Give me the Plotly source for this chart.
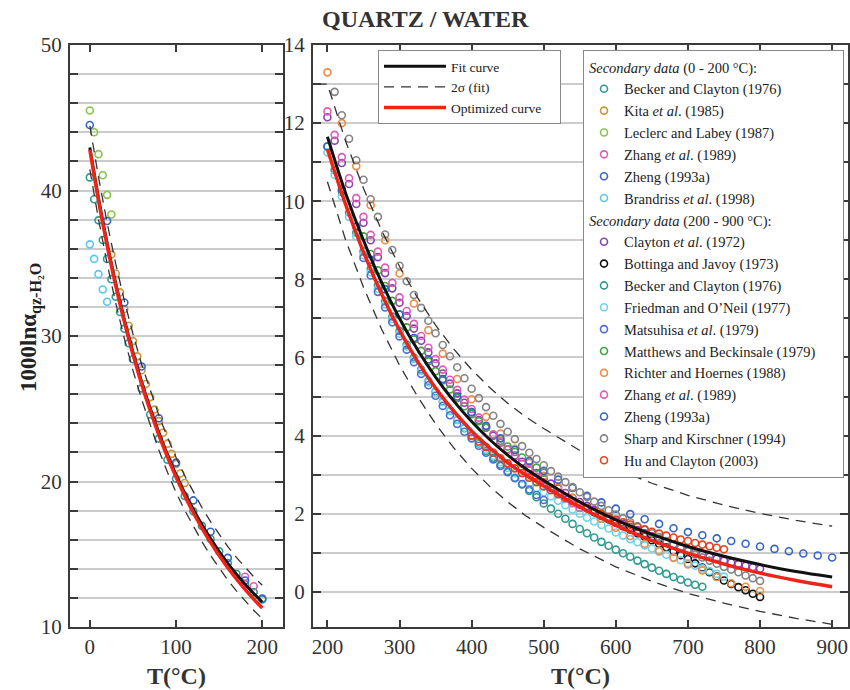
import plotly.graph_objects as go

FONT = "Liberation Serif, Times New Roman, serif"

# ---------------- curves: low-temperature panel (T in °C) ----------------
T_LOW = list(range(0, 201, 10))
FIT_LOW = [42.95, 39.49, 36.39, 33.62, 31.13, 28.89, 26.86, 25.03, 23.36, 21.84, 20.45,
           19.21, 18.07, 17.03, 16.07, 15.19, 14.37, 13.63, 12.93, 12.30, 11.72]
OPT_LOW = [42.80, 39.34, 36.24, 33.47, 30.98, 28.74, 26.71, 24.88, 23.21, 21.69, 20.30,
           19.03, 17.87, 16.80, 15.82, 14.91, 14.07, 13.30, 12.58, 11.92, 11.30]
UP_LOW = [44.45, 40.94, 37.79, 34.97, 32.43, 30.14, 28.06, 26.23, 24.56, 23.04, 21.65,
          20.40, 19.26, 18.21, 17.24, 16.36, 15.53, 14.79, 14.09, 13.45, 12.87]
LO_LOW = [41.45, 38.04, 34.99, 32.27, 29.83, 27.64, 25.66, 23.83, 22.16, 20.64, 19.25,
          18.03, 16.90, 15.87, 14.91, 14.04, 13.22, 12.48, 11.78, 11.15, 10.57]

# ---------------- curves: high-temperature panel ----------------
T_HIGH = [200, 225, 250, 275, 300, 325, 350, 375, 400, 425, 450, 475, 500,
          550, 600, 650, 700, 750, 800, 850, 900]
FIT_HIGH = [11.65, 10.22, 9.00, 7.93, 7.00, 6.20, 5.50, 4.89, 4.36, 3.90, 3.50, 3.15, 2.85,
            2.30, 1.84, 1.47, 1.16, 0.91, 0.70, 0.52, 0.38]
OPT_HIGH = [11.33, 9.93, 8.70, 7.63, 6.70, 5.90, 5.22, 4.63, 4.12, 3.69, 3.31, 2.99, 2.71,
            2.17, 1.70, 1.31, 0.99, 0.71, 0.48, 0.29, 0.13]
T_UP_HIGH = [185] + T_HIGH
UP_HIGH = [13.00, 13.00, 11.55, 10.33, 9.26, 8.33, 7.53, 6.83, 6.22, 5.69, 5.23, 4.83, 4.48, 4.18,
           3.62, 3.15, 2.78, 2.47, 2.22, 2.01, 1.83, 1.68]
LO_HIGH = [10.50, 9.02, 7.80, 6.73, 5.80, 5.00, 4.30, 3.69, 3.16, 2.70, 2.30, 1.95, 1.65,
           1.10, 0.64, 0.27, -0.04, -0.29, -0.50, -0.68, -0.83]

# ---------------- secondary data, 0 - 200 °C ----------------
BECKER_LO_T = [0, 5, 10, 15, 20, 25, 30, 35, 40, 45, 50, 60, 70, 80, 90, 100, 110, 120,
               130, 140, 150, 160, 170, 180, 190, 200]
BECKER_LO_V = [40.9, 39.4, 37.95, 36.6, 35.3, 33.9, 32.7, 31.65, 30.5, 29.5, 28.4, 26.4, 24.6,
               22.95, 21.5, 20.2, 19.0, 17.95, 16.95, 16.05, 15.2, 14.4, 13.65, 12.95, 12.4, 11.9]
KITA_T = list(range(25, 111, 5))
KITA_V = [35.6, 34.3, 33.0, 31.85, 30.7, 29.65, 28.6, 27.65, 26.7, 25.8, 24.95, 24.15,
          23.35, 22.6, 21.9, 21.2, 20.55, 19.9]
LECLERC_T = [0, 5, 10, 15, 20, 25]
LECLERC_V = [45.5, 44.0, 42.5, 41.05, 39.7, 38.35]
ZHANG_LO_T = [180, 190]
ZHANG_LO_V = [13.45, 12.8]
ZHENG_LO_T = [0, 20, 40, 60, 80, 100, 120, 140, 160, 180, 200]
ZHENG_LO_V = [44.5, 37.9, 32.3, 27.9, 24.35, 21.3, 18.7, 16.55, 14.75, 13.2, 11.95]
BRANDRISS_T = [0, 5, 10, 15, 20]
BRANDRISS_V = [36.3, 35.3, 34.25, 33.2, 32.35]

# ---------------- secondary data, 200 - 900 °C ----------------
CLAYTON_T = list(range(200, 801, 10))
CLAYTON_V = [12.15, 11.55, 10.98, 10.44, 9.93, 9.45, 9.0, 8.57, 8.16, 7.77, 7.4, 7.06, 6.74,
             6.43, 6.13, 5.85, 5.59, 5.33, 5.08, 4.84, 4.6, 4.4, 4.2, 4.0, 3.82, 3.65, 3.49,
             3.33, 3.18, 3.04, 2.9, 2.77, 2.65, 2.53, 2.41, 2.3, 2.2, 2.1, 2.0, 1.91, 1.82,
             1.74, 1.66, 1.58, 1.5, 1.42, 1.35, 1.28, 1.21, 1.14, 1.08, 1.02, 0.96, 0.9,
             0.85, 0.8, 0.75, 0.71, 0.67, 0.63, 0.59]
BOTTINGA_T = list(range(560, 801, 10))
BOTTINGA_V = [2.14, 2.04, 1.95, 1.86, 1.77, 1.68, 1.59, 1.5, 1.41, 1.32, 1.23, 1.14, 1.04,
              0.94, 0.84, 0.73, 0.62, 0.5, 0.39, 0.29, 0.2, 0.12, 0.04, -0.05, -0.13]
BECKER_HI_T = list(range(200, 721, 10))
BECKER_HI_V = [11.4, 10.8, 10.24, 9.71, 9.2, 8.72, 8.27, 7.85, 7.44, 7.05, 6.68, 6.33, 6.0,
               5.69, 5.4, 5.13, 4.87, 4.63, 4.4, 4.19, 3.99, 3.8, 3.61, 3.43, 3.26, 3.09,
               2.92, 2.75, 2.58, 2.42, 2.26, 2.13, 2.0, 1.87, 1.74, 1.61, 1.5, 1.39, 1.28,
               1.18, 1.08, 0.99, 0.9, 0.8, 0.71, 0.62, 0.54, 0.46, 0.38, 0.31, 0.24, 0.18, 0.13]
FRIEDMAN_T = list(range(200, 751, 10))
FRIEDMAN_V = [11.25, 10.67, 10.12, 9.6, 9.1, 8.62, 8.18, 7.76, 7.36, 6.98, 6.61, 6.28, 5.96,
              5.66, 5.37, 5.11, 4.86, 4.63, 4.41, 4.2, 4.0, 3.82, 3.64, 3.48, 3.32, 3.17,
              3.04, 2.9, 2.78, 2.66, 2.55, 2.44, 2.33, 2.22, 2.11, 2.0, 1.9, 1.8, 1.71, 1.62,
              1.52, 1.44, 1.35, 1.27, 1.19, 1.11, 1.03, 0.95, 0.88, 0.81, 0.73, 0.67, 0.6,
              0.53, 0.46, 0.39]
MATSUHISA_T = list(range(250, 501, 10))
MATSUHISA_V = [8.55, 8.1, 7.68, 7.28, 6.9, 6.54, 6.2, 5.88, 5.58, 5.29, 5.02, 4.76, 4.52,
               4.3, 4.1, 3.93, 3.74, 3.56, 3.39, 3.22, 3.06, 2.91, 2.76, 2.62, 2.48, 2.35]
MATTHEWS_T = list(range(250, 501, 10))
MATTHEWS_V = [9.1, 8.65, 8.23, 7.83, 7.45, 7.1, 6.77, 6.46, 6.17, 5.9, 5.65, 5.41, 5.18,
              4.96, 4.75, 4.55, 4.37, 4.2, 4.03, 3.87, 3.72, 3.58, 3.44, 3.31, 3.18, 3.05]
RICHTER_T = list(range(200, 801, 20))
RICHTER_V = [13.3, 12.0, 10.9, 9.9, 9.0, 8.15, 7.38, 6.7, 6.1, 5.45, 4.93, 4.48, 4.05, 3.66,
             3.3, 2.97, 2.68, 2.4, 2.13, 1.87, 1.64, 1.43, 1.23, 1.05, 0.87, 0.7, 0.55, 0.38,
             0.22, 0.13, 0.02]
ZHANG_HI_T = list(range(200, 551, 10))
ZHANG_HI_V = [12.3, 11.7, 11.13, 10.59, 10.08, 9.6, 9.14, 8.71, 8.3, 7.91, 7.54, 7.19, 6.86,
              6.55, 6.25, 5.96, 5.69, 5.43, 5.17, 4.92, 4.68, 4.46, 4.24, 4.03, 3.83, 3.64,
              3.46, 3.28, 3.11, 2.95, 2.8, 2.66, 2.52, 2.39, 2.27, 2.15]
ZHENG_HI_T = list(range(200, 901, 20))
ZHENG_HI_V = [11.4, 10.3, 9.35, 8.5, 7.75, 7.1, 6.5, 5.95, 5.45, 5.0, 4.6, 4.25, 3.93, 3.63,
              3.35, 3.1, 2.87, 2.66, 2.46, 2.29, 2.13, 1.99, 1.86, 1.74, 1.63, 1.53, 1.45,
              1.37, 1.3, 1.23, 1.16, 1.1, 1.04, 0.98, 0.93, 0.88]
SHARP_T = list(range(210, 801, 10))
SHARP_V = [12.8, 12.2, 11.6, 11.05, 10.55, 10.05, 9.6, 9.15, 8.75, 8.35, 7.95, 7.6, 7.27,
           6.94, 6.62, 6.32, 6.03, 5.75, 5.47, 5.2, 4.96, 4.73, 4.51, 4.3, 4.1, 3.91, 3.73,
           3.56, 3.4, 3.24, 3.09, 2.95, 2.81, 2.68, 2.55, 2.43, 2.31, 2.2, 2.09, 1.98, 1.88,
           1.78, 1.68, 1.59, 1.5, 1.4, 1.3, 1.21, 1.12, 1.04, 0.96, 0.88, 0.8, 0.72, 0.64,
           0.57, 0.5, 0.42, 0.35, 0.28]
HU_T = list(range(400, 751, 10))
HU_V = [4.0, 3.85, 3.7, 3.56, 3.42, 3.29, 3.16, 3.04, 2.92, 2.81, 2.7, 2.6, 2.5, 2.41, 2.32,
        2.23, 2.15, 2.07, 1.99, 1.92, 1.85, 1.78, 1.72, 1.66, 1.6, 1.54, 1.49, 1.44, 1.39,
        1.34, 1.3, 1.25, 1.21, 1.17, 1.13, 1.09]

NB = "\u00a0"
LOW_SERIES = [
    ("Becker and Clayton (1976)", BECKER_LO_T, BECKER_LO_V, "#2f9c8f"),
    ("Kita <i>et al</i>. (1985)", KITA_T, KITA_V, "#c9963a"),
    ("Leclerc and Labey (1987)", LECLERC_T, LECLERC_V, "#86c44a"),
    ("Zhang <i>et al</i>. (1989)", ZHANG_LO_T, ZHANG_LO_V, "#e05cb4"),
    ("Zheng (1993a)", ZHENG_LO_T, ZHENG_LO_V, "#3564c8"),
    ("Brandriss <i>et al</i>. (1998)", BRANDRISS_T, BRANDRISS_V, "#5cc6ee"),
]
HIGH_SERIES = [
    ("Clayton <i>et al</i>. (1972)", CLAYTON_T, CLAYTON_V, "#8a42b0"),
    ("Bottinga and Javoy (1973)", BOTTINGA_T, BOTTINGA_V, "#111111"),
    ("Becker and Clayton (1976)", BECKER_HI_T, BECKER_HI_V, "#2f9c8f"),
    ("Friedman and O\u2019Neil (1977)", FRIEDMAN_T, FRIEDMAN_V, "#6fd2ea"),
    ("Matsuhisa <i>et al</i>. (1979)", MATSUHISA_T, MATSUHISA_V, "#4a6fd0"),
    ("Matthews and Beckinsale (1979)" + NB * 6, MATTHEWS_T, MATTHEWS_V, "#3aa83c"),
    ("Richter and Hoernes (1988)", RICHTER_T, RICHTER_V, "#f08c48"),
    ("Zhang <i>et al</i>. (1989)", ZHANG_HI_T, ZHANG_HI_V, "#e05cb4"),
    ("Zheng (1993a)", ZHENG_HI_T, ZHENG_HI_V, "#3564c8"),
    ("Sharp and Kirschner (1994)", SHARP_T, SHARP_V, "#858585"),
    ("Hu and Clayton (2003)", HU_T, HU_V, "#e8401e"),
]

fig = go.Figure()


def add_points(series, xa, ya, group, title):
    for name, t, v, col in series:
        fig.add_trace(go.Scatter(
            x=t, y=v, mode="markers", name=name, xaxis=xa, yaxis=ya,
            marker=dict(symbol="circle-open", size=7, color=col, line=dict(width=1.6, color=col)),
            legend="legend2", legendgroup=group,
            legendgrouptitle=dict(text=title, font=dict(family=FONT, size=14.5, color="#222")),
        ))


add_points(LOW_SERIES, "x", "y", "low", "<i>Secondary data</i> (0 - 200 °C):")
add_points(HIGH_SERIES, "x2", "y2", "high", "<i>Secondary data</i> (200 - 900 °C):")

DASH = dict(color="#333333", width=1.3, dash="10px,7px")
# dashed 2-sigma bands
fig.add_trace(go.Scatter(x=T_LOW, y=UP_LOW, mode="lines", line=DASH, xaxis="x", yaxis="y", showlegend=False))
fig.add_trace(go.Scatter(x=T_LOW, y=LO_LOW, mode="lines", line=DASH, xaxis="x", yaxis="y", showlegend=False))
fig.add_trace(go.Scatter(x=T_UP_HIGH, y=UP_HIGH, mode="lines", line=DASH, xaxis="x2", yaxis="y2",
                         name="2σ (fit)", legend="legend", legendrank=2))
fig.add_trace(go.Scatter(x=T_HIGH, y=LO_HIGH, mode="lines", line=DASH, xaxis="x2", yaxis="y2", showlegend=False))
# fit curve
FITL = dict(color="#111111", width=3)
fig.add_trace(go.Scatter(x=T_LOW, y=FIT_LOW, mode="lines", line=FITL, line_shape="spline",
                         xaxis="x", yaxis="y", showlegend=False))
fig.add_trace(go.Scatter(x=T_HIGH, y=FIT_HIGH, mode="lines", line=FITL, line_shape="spline",
                         xaxis="x2", yaxis="y2", name="Fit curve", legend="legend", legendrank=1))
# optimized curve
OPTL = dict(color="#ee2418", width=3.5)
fig.add_trace(go.Scatter(x=T_LOW, y=OPT_LOW, mode="lines", line=OPTL, line_shape="spline",
                         xaxis="x", yaxis="y", showlegend=False))
fig.add_trace(go.Scatter(x=T_HIGH, y=OPT_HIGH, mode="lines", line=OPTL, line_shape="spline",
                         xaxis="x2", yaxis="y2", name="Optimized curve" + NB * 4,
                         legend="legend", legendrank=3))

W, H = 850, 690
FRAME = "#3a3a3a"
GRID = "#cccccc"
TICKF = dict(family=FONT, size=21, color="#333")


def xax(domain, rng, dtick, anchor):
    return dict(domain=domain, range=rng, dtick=dtick, tick0=0, ticks="inside", ticklen=7, tickwidth=2,
                tickcolor=FRAME, showline=True, linewidth=2, linecolor=FRAME, mirror="ticks",
                showgrid=False, zeroline=False, tickfont=TICKF, automargin=False, anchor=anchor)


def yax(domain, rng, dtick, mdtick, anchor):
    return dict(domain=domain, range=rng, dtick=dtick, tick0=0, ticks="inside", ticklen=8, tickwidth=2,
                tickcolor=FRAME, showline=True, linewidth=2, linecolor=FRAME, mirror="ticks",
                showgrid=True, gridcolor=GRID, gridwidth=1.5, zeroline=False, tickfont=TICKF,
                anchor=anchor, automargin=False, ticklabelstandoff=2,
                minor=dict(dtick=mdtick, tick0=0, ticks="inside", ticklen=8, tickwidth=2, tickcolor=FRAME,
                           showgrid=True, gridcolor=GRID, gridwidth=1.5))


ydom = [1 - 627 / H, 1 - 45 / H]
fig.update_layout(
    width=W, height=H, margin=dict(l=0, r=0, t=0, b=0, autoexpand=False),
    plot_bgcolor="white", paper_bgcolor="white",
    font=dict(family=FONT, color="#222"),
    xaxis=xax([70 / W, 283 / W], [-23, 224], 100, "y"),
    yaxis=yax(ydom, [10, 50], 10, 2, "x"),
    xaxis2=xax([313 / W, 848 / W], [180, 922], 100, "y2"),
    yaxis2=yax(ydom, [-0.9, 14], 2, 1, "x2"),
    legend=dict(x=378 / W, y=1 - 50 / H, xanchor="left", yanchor="top", bgcolor="white",
                bordercolor="#888", borderwidth=1, font=dict(family=FONT, size=13.5, color="#222"),
                tracegroupgap=0, itemwidth=62),
    legend2=dict(x=583 / W, y=1 - 50 / H, xanchor="left", yanchor="top", bgcolor="white",
                 bordercolor="#888", borderwidth=1, font=dict(family=FONT, size=14.5, color="#222"),
                 tracegroupgap=0, traceorder="grouped", itemwidth=30),
    showlegend=True,
    annotations=[
        dict(text="<b>QUARTZ / WATER</b>", x=425 / W, y=1 - 19 / H, xref="paper", yref="paper",
             xanchor="center", yanchor="middle",
             showarrow=False, font=dict(family=FONT, size=24, color="#333")),
        dict(text="<b>T(°C)</b>", x=176 / W, y=1 - 676 / H, xref="paper", yref="paper",
             xanchor="center", yanchor="middle",
             showarrow=False, font=dict(family=FONT, size=24, color="#333")),
        dict(text="<b>T(°C)</b>", x=580 / W, y=1 - 676 / H, xref="paper", yref="paper",
             xanchor="center", yanchor="middle",
             showarrow=False, font=dict(family=FONT, size=24, color="#333")),
        dict(text="<b>1000lnα<sub>qz-H₂O</sub></b>", x=30 / W, y=1 - 328 / H, xref="paper", yref="paper",
             xanchor="center", yanchor="middle",
             showarrow=False, textangle=-90, font=dict(family=FONT, size=23, color="#222")),
    ],
)

fig.write_html("out.html")
